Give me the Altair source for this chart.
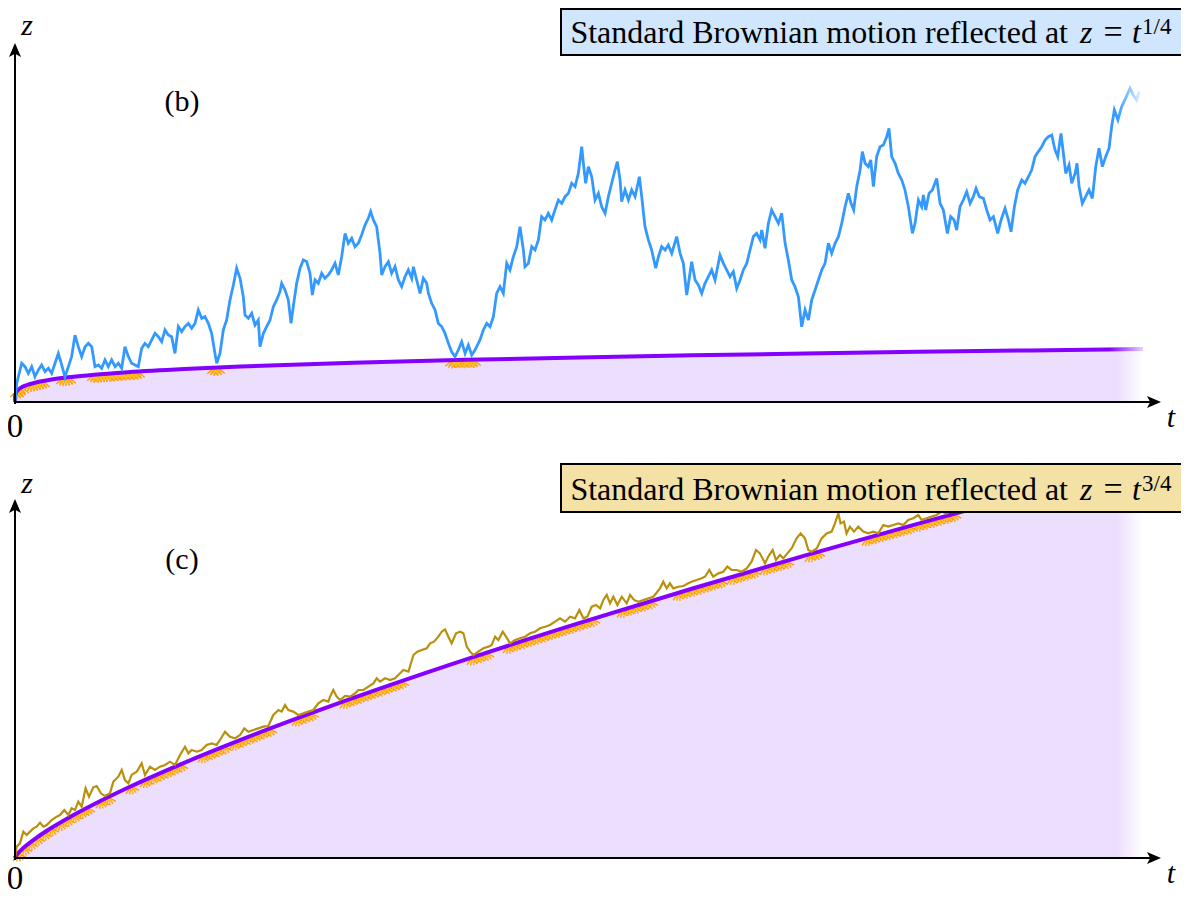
import altair as alt
import pandas as pd

# ---------------- data ----------------
# barrier curves (t in 0..100)
bar_t = [0, 0.002, 0.01, 0.05, 0.1, 0.2, 0.5, 1, 2, 3, 5, 7, 10, 15, 20, 30, 40, 50, 60, 70, 80, 90, 100]
bar_b = [0, 0.211, 0.316, 0.473, 0.562, 0.669, 0.841, 1, 1.189, 1.316, 1.495, 1.627, 1.778, 1.968,
         2.115, 2.340, 2.515, 2.659, 2.783, 2.893, 2.991, 3.080, 3.162]
bar_c = [0, 0.0095, 0.0316, 0.106, 0.178, 0.299, 0.595, 1, 1.682, 2.280, 3.344, 4.303, 5.623, 7.622,
         9.457, 12.819, 15.905, 18.803, 21.558, 24.205, 26.749, 29.220, 31.623]

# panel (b): Brownian path reflected at z = t^(1/4)
b_t = [0, 0.15, 0.59, 0.89, 1.18, 1.48, 1.77, 2.07, 2.36, 2.66, 2.96, 3.25, 3.55, 3.84, 4.14, 4.43, 4.73,
       5.02, 5.32, 5.61, 5.91, 6.21, 6.50, 6.80, 7.09, 7.39, 7.68, 7.98, 8.27, 8.57, 8.87, 9.16, 9.46,
       9.75, 10.05, 10.34, 10.64, 10.93, 11.23, 11.52, 11.82, 12.12, 12.41, 12.71, 13.00, 13.30, 13.59,
       13.89, 14.18, 14.48, 14.78, 15.07, 15.37, 15.66, 15.96, 16.25, 16.55, 16.84, 17.14, 17.43, 17.73,
       17.88, 18.17, 18.47, 18.76, 19.06, 19.36, 19.65, 19.95, 20.24, 20.39, 20.69, 20.98, 21.28, 21.57,
       21.72, 22.02, 22.31, 22.61, 22.90, 23.20, 23.49, 23.64, 23.94, 24.23, 24.47, 24.67, 24.97, 25.27,
       25.56, 25.86, 26.15, 26.36, 26.60, 26.89, 27.19, 27.48, 27.78, 28.07, 28.37, 28.66, 28.96, 29.26,
       29.55, 29.85, 30.14, 30.44, 30.73, 31.03, 31.32, 31.53, 31.77, 32.06, 32.36, 32.51, 32.80, 33.10,
       33.39, 33.69, 33.99, 34.28, 34.58, 34.87, 35.17, 35.32, 35.61, 35.91, 36.20, 36.50, 36.65, 36.94,
       37.24, 37.53, 37.83, 38.12, 38.42, 38.71, 39.01, 39.30, 39.60, 39.90, 40.19, 40.49, 40.78, 41.22,
       41.52, 41.82, 42.11, 42.41, 42.70, 43.00, 43.29, 43.59, 43.88, 44.18, 44.48, 44.77, 45.07, 45.21,
       45.51, 45.81, 46.10, 46.40, 46.69, 46.99, 47.28, 47.58, 47.87, 48.17, 48.47, 48.76, 49.06, 49.35,
       49.65, 49.94, 50.24, 50.39, 50.59, 50.83, 51.13, 51.42, 51.72, 52.01, 52.31, 52.60, 52.90, 53.19,
       53.40, 53.64, 53.78, 54.08, 54.38, 54.67, 54.97, 55.35, 55.56, 55.85, 56.15, 56.44, 56.80, 57.04,
       57.33, 57.63, 57.92, 58.22, 58.66, 58.96, 59.25, 59.55, 59.84, 59.99, 60.29, 60.58, 60.88, 61.17,
       61.47, 61.76, 62.06, 62.50, 62.80, 63.09, 63.39, 63.68, 63.98, 64.28, 64.57, 64.87, 65.16, 65.46,
       65.75, 66.05, 66.20, 66.49, 66.79, 67.08, 67.38, 67.68, 67.97, 68.27, 68.56, 68.86, 69.15, 69.45,
       69.74, 70.04, 70.34, 70.63, 70.93, 71.22, 71.52, 71.81, 72.11, 72.40, 72.70, 73.00, 73.29, 73.59,
       73.88, 74.12, 74.35, 74.62, 74.92, 75.12, 75.36, 75.65, 75.86, 76.10, 76.39, 76.69, 76.98, 77.28,
       77.48, 77.72, 78.02, 78.31, 78.61, 78.90, 79.20, 79.56, 79.79, 80.09, 80.38, 80.53, 80.74, 81.03,
       81.33, 81.71, 82.01, 82.30, 82.66, 82.95, 83.25, 83.48, 83.78, 84.07, 84.37, 84.67, 84.96, 85.20,
       85.49, 85.85, 86.14, 86.44, 86.74, 87.12, 87.42, 87.77, 88.07, 88.30, 88.60, 88.89, 89.25, 89.54,
       89.84, 90.13, 90.43, 90.72, 91.02, 91.32, 91.61, 91.91, 92.20, 92.44, 92.73, 92.94, 93.15, 93.44,
       93.68, 93.98, 94.15, 94.33, 94.62, 94.92, 95.21, 95.51, 95.81, 96.10, 96.40, 96.69, 96.99, 97.22,
       97.46, 97.78, 98.11, 98.46, 98.85, 99.14, 99.44, 99.67]
b_z = [0, 1.11, 2.31, 2.11, 1.71, 2.11, 1.51, 1.91, 2.21, 1.81, 2.01, 1.71, 2.31, 2.90, 2.21, 1.50, 2.11,
       2.71, 3.99, 3.30, 2.71, 3.30, 3.50, 3.30, 2.11, 2.21, 2.01, 2.51, 2.11, 2.51, 2.11, 2.31, 2.01,
       3.30, 2.71, 2.31, 2.21, 2.11, 3.20, 3.50, 3.30, 3.70, 4.10, 3.90, 3.60, 4.30, 4.00,
       3.90, 2.90, 4.50, 4.20, 4.50, 4.69, 4.40, 4.69, 5.49, 4.99, 5.09, 4.69, 4.10, 2.90,
       2.31, 2.90, 4.30, 4.89, 6.09, 6.98, 7.98, 7.38, 6.29, 5.19, 4.99, 5.29, 4.59, 4.89,
       3.30, 4.10, 4.50, 4.89, 5.69, 6.09, 6.58, 7.08, 6.68, 6.09, 4.69, 5.69, 7.08, 7.98,
       8.47, 8.37, 7.68, 6.38, 7.28, 7.08, 7.68, 7.38, 7.58, 7.88, 8.27, 7.58, 8.67, 10.06,
       9.47, 9.77, 9.27, 9.47, 9.96, 10.56, 10.96, 11.36, 10.86, 10.46, 8.87, 7.58, 8.08, 8.37,
       7.68, 8.08, 7.28, 6.88, 7.48, 7.88, 7.38, 8.07, 7.28, 6.48, 7.38, 7.08, 6.48, 5.89,
       5.49, 4.69, 4.50, 4.10, 3.50, 3.00, 2.71, 3.10, 3.60, 2.90, 3.40, 2.80, 3.10, 3.70,
       4.30, 4.69, 4.50, 5.09, 6.48, 6.88, 6.48, 8.27, 7.88, 8.67, 9.27, 10.46, 9.07, 8.07,
       8.27, 9.27, 9.07, 9.67, 11.06, 10.86, 11.26, 10.86, 11.46, 12.05, 11.85, 12.25, 12.45, 13.05,
       12.85, 13.64, 15.24, 14.24, 13.05, 14.04, 13.44, 12.05, 12.45, 11.65, 11.26, 12.25, 13.05, 13.84,
       14.34, 13.25, 11.95, 12.65, 12.05, 12.65, 12.25, 13.44, 12.25, 10.46, 9.67, 9.07, 7.98, 8.67,
       9.27, 9.07, 9.37, 8.87, 9.87, 8.87, 8.27, 6.38, 7.68, 8.37, 7.28, 6.98, 6.48, 7.08,
       7.48, 7.88, 7.28, 8.77, 8.27, 7.88, 7.48, 7.78, 6.78, 7.28, 7.88, 8.27, 9.07, 9.87,
       10.06, 9.67, 10.26, 9.17, 10.66, 11.46, 11.06, 10.66, 11.26, 9.47, 8.47, 7.28, 6.88, 6.28,
       4.49, 5.49, 4.89, 6.09, 6.68, 7.28, 7.88, 8.27, 9.47, 8.87, 9.47, 9.86, 10.66, 11.65,
       12.45, 11.85, 11.46, 12.85, 13.84, 14.94, 14.24, 14.04, 14.44, 12.85, 14.64, 15.23, 15.33, 15.83,
       16.33, 14.64, 14.24, 13.64, 13.25, 12.65, 11.65, 10.06, 10.66, 12.05, 11.65, 12.35, 11.46, 12.45,
       12.65, 13.34, 11.85, 11.46, 10.06, 11.06, 10.86, 10.26, 11.65, 12.05, 12.55, 11.85, 12.25, 12.75,
       12.25, 12.15, 11.46, 10.86, 11.06, 10.06, 10.86, 11.55, 10.86, 10.16, 11.65, 12.65, 13.25, 13.05,
       13.44, 13.84, 14.64, 14.94, 15.23, 15.63, 15.83, 15.93, 15.04, 14.64, 16.03, 14.84, 13.64, 14.14,
       13.05, 13.64, 14.24, 12.85, 11.85, 12.25, 12.65, 12.15, 14.04, 15.14, 14.04, 14.64, 15.14, 16.43,
       17.42, 16.83, 17.62, 18.12, 18.72, 18.32, 18.02, 18.52]

# panel (c): Brownian path reflected at z = t^(3/4)
c_t = [0, 0.15, 0.44, 0.74, 1.03, 1.33, 1.63, 1.92, 2.22, 2.51, 2.81, 3.25, 3.69, 3.99, 4.37, 4.73, 5.02,
       5.32, 5.61, 5.91, 6.26, 6.56, 6.94, 7.24, 7.62, 7.98, 8.42, 8.72, 9.16, 9.46, 9.75, 10.05, 10.34,
       10.79, 11.23, 11.52, 11.97, 12.41, 12.85, 13.30, 13.74, 14.18, 14.63, 15.07, 15.37, 15.66, 16.11,
       16.55, 16.99, 17.43, 17.88, 18.17, 18.62, 19.06, 19.50, 19.95, 20.33, 20.69, 21.13, 21.57, 22.02,
       22.46, 22.90, 23.35, 23.64, 23.94, 24.23, 24.67, 25.12, 25.56, 26.00, 26.45, 26.89, 27.33, 27.78,
       27.93, 28.22, 28.52, 28.82, 29.26, 29.70, 30.15, 30.44, 30.89, 31.33, 31.77, 32.07, 32.36, 32.81,
       33.25, 33.69, 34.14, 34.43, 34.88, 35.32, 35.67, 36.06, 36.50, 36.80, 37.15, 37.53, 37.83, 38.12,
       38.42, 38.71, 39.10, 39.46, 39.75, 40.05, 40.34, 40.64, 41.08, 41.52, 41.97, 42.26, 42.56, 42.85,
       43.24, 43.53, 43.89, 44.33, 44.77, 45.22, 45.66, 46.10, 46.55, 46.99, 47.43, 47.88, 48.32, 48.76,
       49.21, 49.65, 50.03, 50.39, 50.74, 51.13, 51.51, 51.87, 52.16, 52.46, 52.75, 53.05, 53.40, 53.79,
       54.23, 54.53, 54.88, 55.26, 55.71, 56.15, 56.59, 57.18, 57.47, 57.77, 58.06, 58.36, 58.80, 59.25,
       59.69, 59.98, 60.43, 60.87, 61.17, 61.55, 61.90, 62.35, 62.79, 63.15, 63.53, 63.97, 64.42, 64.86,
       65.30, 65.69, 66.04, 66.49, 66.78, 67.17, 67.46, 67.82, 68.11, 68.47, 68.85, 69.29, 69.65, 70.03,
       70.33, 70.62, 71.07, 71.51, 71.95, 72.40, 72.69, 72.99, 73.19, 73.49, 73.72, 74.02, 74.38, 74.76,
       75.20, 75.65, 76.09, 76.53, 76.98, 77.42, 77.86, 78.31, 78.75, 79.19, 79.63, 80.08, 80.37, 80.82,
       81.26, 81.70, 82.15, 82.59, 83.18, 83.77, 84.50, 85.30]
c_z = [0, 0.91, 1.17, 2.11, 1.84, 2.11, 2.37, 2.51, 2.83, 2.51, 2.64, 3.04, 3.31, 3.44, 3.84, 3.44, 3.98,
       3.84, 4.51, 4.11, 5.58, 4.91, 5.66, 5.76, 5.18, 4.96, 5.18, 6.11, 6.51, 7.05, 6.24, 5.98, 6.65,
       6.91, 7.58, 6.65, 7.31, 7.05, 7.31, 7.45, 7.71, 7.45, 8.25, 8.91, 8.38, 8.65, 8.51,
       8.65, 9.05, 9.18, 9.05, 9.45, 10.11, 9.71, 9.58, 9.85, 10.38, 10.11, 10.25, 10.38, 10.52,
       10.57, 11.45, 11.85, 11.72, 12.25, 11.85, 11.72, 11.45, 11.58, 11.72, 11.85, 12.38, 12.65, 12.52,
       12.92, 13.45, 12.92, 12.65, 12.97, 12.92, 13.18, 13.45, 13.45, 13.72, 13.98, 14.39, 14.12, 14.39,
       14.25, 14.39, 14.79, 15.05, 14.92, 16.25, 16.52, 16.65, 16.79, 17.19, 17.32, 17.72, 18.12, 18.31,
       17.72, 17.19, 17.99, 18.12, 17.99, 16.92, 16.52, 16.25, 16.52, 16.79, 16.92, 17.05, 17.72, 17.45,
       18.12, 17.72, 17.19, 17.45, 17.59, 17.72, 17.99, 18.12, 18.39, 18.52, 18.66, 18.92, 19.19, 18.92,
       19.32, 19.19, 19.86, 19.19, 19.32, 20.12, 20.26, 19.99, 20.66, 21.06, 20.39, 20.92, 20.26, 20.92,
       20.39, 21.06, 20.66, 20.52, 20.66, 20.79, 20.92, 21.59, 22.12, 21.59, 21.99, 21.59, 21.72, 21.78,
       21.99, 22.12, 22.26, 22.39, 22.52, 23.06, 22.52, 22.79, 22.92, 23.33, 23.06, 23.06, 22.92, 23.19,
       23.73, 24.66, 24.39, 23.59, 24.13, 24.66, 23.86, 24.26, 23.99, 24.39, 24.79, 25.59, 25.99, 25.59,
       24.66, 24.53, 24.79, 25.59, 25.99, 26.13, 26.79, 27.59, 26.79, 26.93, 25.99, 26.53, 26.13, 26.53,
       26.13, 25.99, 26.13, 25.99, 26.66, 26.53, 26.66, 26.79, 26.66, 27.06, 27.20, 27.46, 27.06, 27.20,
       27.33, 27.46, 27.73, 27.59, 28.13, 28.53, 29.00, 29.40]

# reflection "sparks" (touch points on the barrier)
sb_t = [0.18, 0.35, 0.62, 1.42, 1.68, 1.95, 2.22, 2.48, 4.26, 4.52, 4.79, 7.00, 7.36, 7.62, 7.89, 8.16,
        8.42, 8.78, 9.13, 9.49, 9.84, 10.20, 10.55, 10.90, 17.64, 18.00, 38.74, 39.10, 39.45, 39.89,
        40.25, 40.69]
sb_z = [0.651, 0.769, 0.887, 1.092, 1.138, 1.182, 1.221, 1.255, 1.437, 1.458, 1.479, 1.627, 1.647, 1.661,
        1.676, 1.690, 1.703, 1.721, 1.738, 1.755, 1.771, 1.787, 1.802, 1.817, 2.049, 2.060, 2.495, 2.501,
        2.506, 2.513, 2.519, 2.526]
sc_t = [0.27, 0.80, 1.33,
        1.95, 2.57, 3.19,
        3.99, 4.61, 5.23, 5.85, 6.38,
        7.62, 8.24,
        10.28,
        11.52, 12.15, 12.77, 13.39, 14.01, 14.63,
        16.67, 17.29, 17.91, 18.53,
        19.41, 20.04, 20.66, 21.28, 21.90, 22.52,
        25.00, 25.62, 26.24,
        29.26, 29.88, 30.50, 31.12, 31.74, 32.36, 32.98, 33.60, 34.22,
        40.51, 41.13, 41.76,
        43.71, 44.33, 44.95, 45.57, 46.19, 46.81, 47.43, 48.05, 48.67, 49.29, 49.91, 50.53, 51.15,
        53.81, 54.43, 55.05, 55.67, 56.29,
        58.78, 59.40, 60.02, 60.64, 61.26, 61.88, 62.50,
        63.56, 64.18, 64.80, 65.43,
        66.49, 67.11, 67.73, 68.35,
        70.48, 71.10,
        75.53, 76.15, 76.77, 77.39,
        78.01, 78.63, 79.26,
        80.05, 80.67, 81.29, 81.91, 82.54, 83.16]
sc_z = [0.375, 0.846, 1.238,
        1.650, 2.030, 2.387,
        2.823, 3.146, 3.458, 3.762, 4.015,
        4.586, 4.864,
        5.741,
        6.254, 6.507, 6.755, 7.000, 7.241, 7.481,
        8.250, 8.479, 8.706, 8.931,
        9.247, 9.471, 9.690, 9.908, 10.123, 10.337,
        11.18, 11.39, 11.59,
        12.58, 12.78, 12.98, 13.18, 13.37, 13.57, 13.76, 13.96, 14.15,
        16.06, 16.24, 16.43,
        17.00, 17.18, 17.36, 17.54, 17.72, 17.90, 18.08, 18.25, 18.43, 18.60, 18.78, 18.96, 19.13,
        19.87, 20.04, 20.21, 20.38, 20.55,
        21.23, 21.40, 21.56, 21.73, 21.90, 22.07, 22.23,
        22.51, 22.68, 22.84, 23.01,
        23.28, 23.45, 23.61, 23.77,
        24.32, 24.49,
        25.62, 25.78, 25.93, 26.09,
        26.25, 26.40, 26.56,
        26.76, 26.92, 27.07, 27.23, 27.39, 27.54]

# ---------------- layout ----------------
W, H = 1173, 889
PX_T = 11.28
ORIGIN_X = 7
B_ORIGIN, B_PX = 394, 16.76
C_ORIGIN, C_PX = 850, 12.49

x_scale = alt.Scale(domain=[-ORIGIN_X / PX_T, (W - ORIGIN_X) / PX_T], nice=False, zero=False)
yb_scale = alt.Scale(domain=[(B_ORIGIN - H) / B_PX, B_ORIGIN / B_PX], nice=False, zero=False)
yc_scale = alt.Scale(domain=[(C_ORIGIN - H) / C_PX, C_ORIGIN / C_PX], nice=False, zero=False)

SERIF = "Liberation Serif"
BLUE = "#3399ff"
GOLD = "#b8900c"
PURPLE = "#8400ff"
LAVENDER = "#ecdefd"
SPARK = "#ff9900"
SPARK2 = "#ffc830"

def X(f="t"):
    return alt.X(f"{f}:Q", scale=x_scale, axis=None)

def Y(scale, f="z"):
    return alt.Y(f"{f}:Q", scale=scale, axis=None)

def grad(c0, c1, start):
    return alt.LinearGradient(gradient="linear", x1=0, x2=1, y1=0, y2=0,
                              stops=[alt.GradientStop(color=c0, offset=0),
                                     alt.GradientStop(color=c0, offset=start),
                                     alt.GradientStop(color=c1, offset=1)])

df_bar = pd.DataFrame({"t": bar_t, "zb": bar_b, "zc": bar_c, "z0": [0] * len(bar_t)})
df_bar_c_line = df_bar[df_bar["t"] <= 90]
df_b = pd.DataFrame({"t": b_t, "z": b_z})
df_c = pd.DataFrame({"t": c_t, "z": c_z})
df_sb = pd.DataFrame({"t": sb_t, "z": sb_z})
df_sc = pd.DataFrame({"t": sc_t, "z": sc_z})
one = pd.DataFrame({"a": [0]})

SPARK_SHAPE = "M0,0L-0.9,0.8M0,0L-0.45,1M0,0L0,1.1M0,0L0.45,1M0,0L0.9,0.8"
SPARK_SHAPE2 = "M0,0L-0.5,0.8M0,0L0,0.9M0,0L0.5,0.8"
ARROW = "M0,0L0.75,1.75L0,1.35L-0.75,1.75Z"

layers = []
for yscale, zf, df_path, df_sp, col, orig, sp_angle, df_line in [
        (yb_scale, "zb", df_b, df_sb, BLUE, B_ORIGIN, 0, df_bar),
        (yc_scale, "zc", df_c, df_sc, GOLD, C_ORIGIN, 345, df_bar_c_line)]:
    layers.append(alt.Chart(df_bar).mark_area(color=grad(LAVENDER, "#ffffff", 0.977), interpolate="monotone")
                  .encode(x=X(), y=Y(yscale, zf), y2=alt.Y2("z0:Q")))
    layers.append(alt.Chart(df_sp).mark_point(shape=SPARK_SHAPE, filled=False, size=225, color=SPARK,
                                              strokeWidth=1.3, opacity=1, angle=sp_angle)
                  .encode(x=X(), y=Y(yscale)))
    layers.append(alt.Chart(df_sp).mark_point(shape=SPARK_SHAPE2, filled=False, size=225, color=SPARK2,
                                              strokeWidth=1, opacity=1, angle=sp_angle)
                  .encode(x=X(), y=Y(yscale)))
    layers.append(alt.Chart(df_line).mark_line(color=grad(PURPLE, "#e6d2ff", 0.97), strokeWidth=4,
                                               interpolate="monotone")
                  .encode(x=X(), y=Y(yscale, zf)))
    if col == BLUE:
        path_color = grad(BLUE, "#d6eaff", 0.98)
        sw = 2.8
    else:
        path_color = GOLD
        sw = 2.2
    layers.append(alt.Chart(df_path).mark_line(color=path_color, strokeWidth=sw)
                  .encode(x=X(), y=Y(yscale)))
    # axes with arrow heads
    layers.append(alt.Chart(one).mark_rule(color="black", strokeWidth=2)
                  .encode(x=alt.value(ORIGIN_X - 1), x2=alt.value(1148), y=alt.value(orig)))
    layers.append(alt.Chart(one).mark_rule(color="black", strokeWidth=2)
                  .encode(x=alt.value(ORIGIN_X), y=alt.value(orig + 2), y2=alt.value(orig - 352)))
    layers.append(alt.Chart(one).mark_point(shape=ARROW, filled=True, size=256, color="black",
                                            opacity=1, angle=90)
                  .encode(x=alt.value(1153), y=alt.value(orig)))
    layers.append(alt.Chart(one).mark_point(shape=ARROW, filled=True, size=256, color="black", opacity=1)
                  .encode(x=alt.value(ORIGIN_X), y=alt.value(orig - 359)))

def txt(s, x, y, size, align="center", baseline="alphabetic", style="normal"):
    return alt.Chart(one).mark_text(text=s, font=SERIF, fontSize=size, align=align, baseline=baseline,
                                    fontStyle=style, color="black").encode(x=alt.value(x), y=alt.value(y))

# legend boxes
for y0, y1, fill, sup in [(1, 47, "#d0e6fc", "1/4"), (456, 504, "#f4e1a6", "3/4")]:
    layers.append(alt.Chart(one).mark_rect(fill=fill, stroke="black", strokeWidth=2)
                  .encode(x=alt.value(553), x2=alt.value(1180), y=alt.value(y0), y2=alt.value(y1)))
    base = y1 - 12
    layers.append(txt("Standard Brownian motion reflected at", 1060, base, 32, align="right"))
    layers.append(txt("z", 1072, base, 32, align="left", style="italic"))
    layers.append(txt("=", 1105, base, 34, align="center"))
    layers.append(txt("t", 1124, base, 32, align="left", style="italic"))
    layers.append(txt(sup, 1134, base - 9, 23, align="left"))

# panel labels and axis labels
layers.append(txt("(b)", 174, 103, 30))
layers.append(txt("(c)", 174, 561, 30))
layers.append(txt("z", 19, 27, 30, style="italic"))
layers.append(txt("z", 19, 485, 30, style="italic"))
layers.append(txt("t", 1163, 419, 30, style="italic"))
layers.append(txt("t", 1163, 875, 30, style="italic"))
layers.append(txt("0", 7, 429, 33))
layers.append(txt("0", 7, 881, 33))

chart = (alt.layer(*layers)
         .resolve_scale(y="independent")
         .properties(width=W, height=H, padding=0, autosize=alt.AutoSizeParams(type="none"))
         .configure_view(strokeWidth=0))

chart.save("out.html", embed_options={"renderer": "svg", "actions": False})
